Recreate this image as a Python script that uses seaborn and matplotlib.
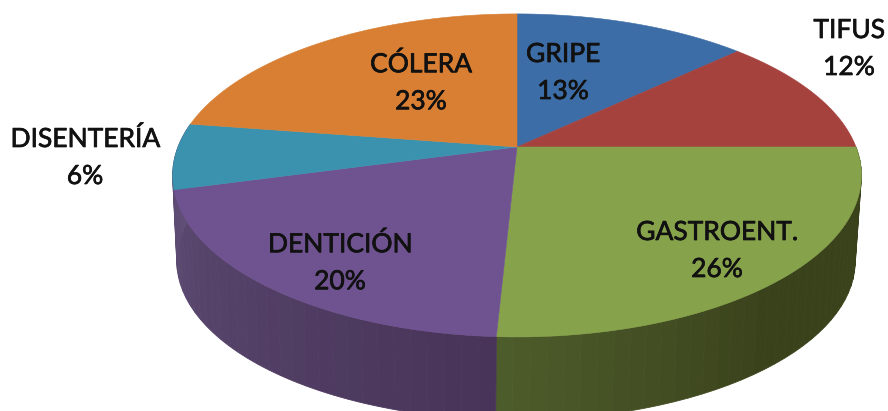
import matplotlib
matplotlib.use("Agg")
import matplotlib.patheffects as pe
import matplotlib.pyplot as plt
import numpy as np
import seaborn as sns

categories = ["GRIPE", "TIFUS", "GASTROENT.", "DENTICIÓN", "DISENTERÍA", "CÓLERA"]
# estimated slice sizes, the printed labels are rounded
shares = [13, 12, 25.8, 20, 6.6, 22.6]
pct_labels = ["13%", "12%", "26%", "20%", "6%", "23%"]
colors = ["#3d6da6", "#a5423e", "#86a24b", "#6f5290", "#3b92ae", "#d87f33"]

# label centres in pixels
label_pos = [(563, 73), (849, 49), (717, 251), (340, 263), (85, 158), (421, 83)]

# side colours, from the start of the slice's rim to its end
side_colors = {
    "GASTROENT.": ("#3a421b", "#4d5c2b"),
    "DENTICIÓN": ("#483458", "#625079"),
}

CX, CY = 517, 147
RX, RY, K = 339, 156.5, 0.176


def project(t, scale=1.0, dx=0.0, dy=0.0):
    d = 1 + K * np.sin(t)
    return CX + dx + scale * RX * np.cos(t) / d, CY + dy - scale * RY * np.sin(t) / d


sns.set_theme(style="white")
plt.rcParams["font.family"] = ["Lato", "DejaVu Sans"]

fig = plt.figure(figsize=(8.88, 4.11), dpi=100)
ax = fig.add_axes([0, 0, 1, 1])
ax.set_xlim(0, 888)
ax.set_ylim(411, 0)
ax.axis("off")

edges = np.pi / 2 - np.cumsum([0] + shares) / sum(shares) * 2 * np.pi

# side wall first, the top covers whatever should be hidden
for i, name in enumerate(categories):
    if name not in side_colors:
        continue
    # the purple wall carries on behind the teal slice
    end = edges[i + 2] if name == "DENTICIÓN" else edges[i + 1]
    ts = np.linspace(edges[i], end, 40)
    c0 = np.array(matplotlib.colors.to_rgb(side_colors[name][0]))
    c1 = np.array(matplotlib.colors.to_rgb(side_colors[name][1]))
    for j in range(len(ts) - 1):
        seg = np.linspace(ts[j], ts[j + 1], 4)
        x0, y0 = project(seg)
        x1, y1 = project(seg, 0.985, -1, 86)
        frac = j / (len(ts) - 2)
        if name == "GASTROENT.":
            # stays dark for most of the rim, lighter close to the seam
            frac = max(0, (frac - 0.55) / 0.45)
        col = c0 + (c1 - c0) * frac
        ax.fill(np.r_[x0, x1[::-1]], np.r_[y0, y1[::-1]], color=col, lw=0.6, ec=col)

for i, name in enumerate(categories):
    ts = np.linspace(edges[i], edges[i + 1], 80)
    x, y = project(ts)
    ax.fill(np.r_[CX, x], np.r_[CY, y], color=colors[i], lw=0.4, ec=colors[i])

for name, pct, (lx, ly) in zip(categories, pct_labels, label_pos):
    ax.text(lx, ly, f"{name}\n{pct}", ha="center", va="center",
            fontsize=19, color="#111111", linespacing=1.6,
            path_effects=[pe.withStroke(linewidth=0.5, foreground="#111111")])

fig.savefig("out.png", dpi=100)
